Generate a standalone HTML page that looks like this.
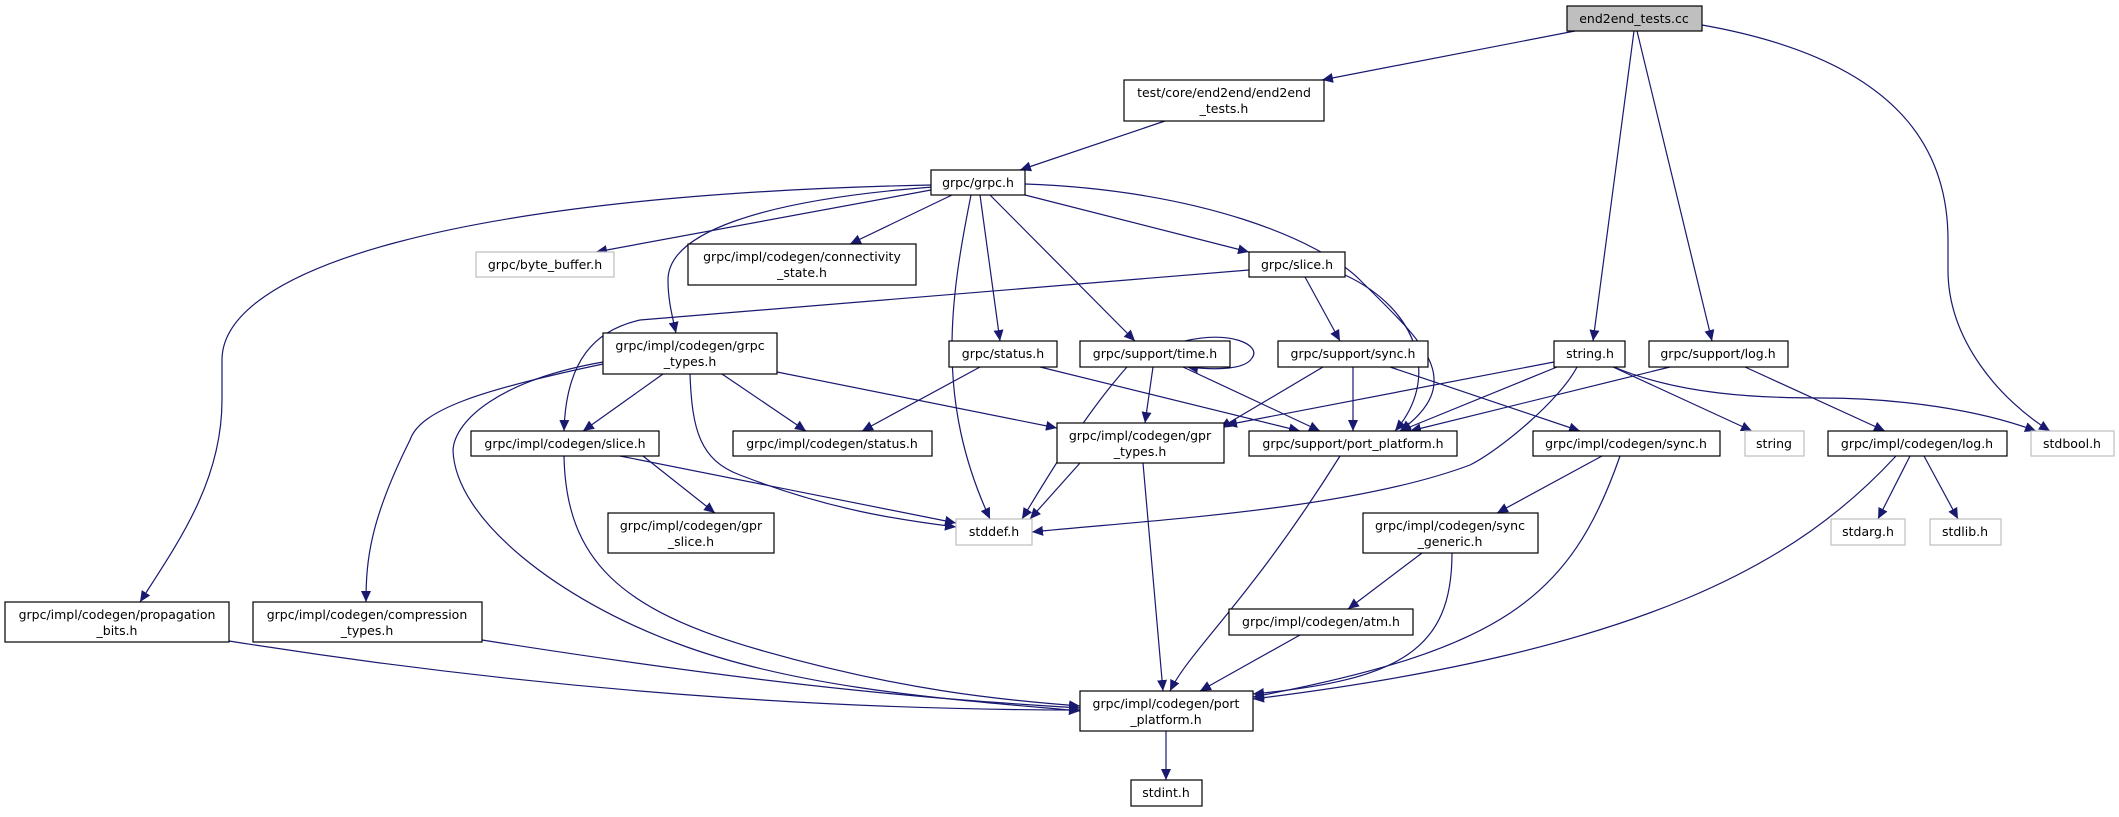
<!DOCTYPE html>
<html><head><meta charset="utf-8"><style>
html,body{margin:0;padding:0;background:#fff;}
svg text{font-family:"DejaVu Sans","Liberation Sans",sans-serif;font-size:12.5px;fill:#000;}
</style></head><body>
<svg width="2119" height="812" viewBox="0 0 2119 812" xmlns="http://www.w3.org/2000/svg">
<defs>
<marker id="a" markerWidth="12" markerHeight="10" refX="11" refY="5" orient="auto" markerUnits="userSpaceOnUse">
<path d="M0,0 L11,5 L0,10 z" fill="#191970"/>
</marker>
</defs>
<g fill="none" stroke="#191970" stroke-width="1.2" marker-end="url(#a)">
<path d="M1575,31 L1322,80"/>
<path d="M1634,31 L1593,341"/>
<path d="M1637,31 L1712,341"/>
<path d="M1702,25 C1900,60 1948,150 1948,240 L1948,270 C1948,340 2000,400 2050,431"/>
<path d="M1165,121 L1020,170"/>
<path d="M931,190 L596,252"/>
<path d="M952,195 L850,244"/>
<path d="M933,187 C760,200 668,233 668,280 C668,300 672,315 676,333"/>
<path d="M1025,195 L1249,252"/>
<path d="M980,195 L1000,341"/>
<path d="M990,195 L1135,341"/>
<path d="M971,195 C950,300 935,400 990,519"/>
<path d="M931,185 C450,195 222,270 222,360 L222,400 C222,480 180,540 140,602"/>
<path d="M1025,184 C1200,190 1320,240 1360,280 C1420,340 1470,380 1400,431"/>
<path d="M1249,270 L640,320 C595,330 566,360 564,431"/>
<path d="M1305,277 L1340,341"/>
<path d="M1345,275 C1420,310 1440,380 1395,431"/>
<path d="M663,374 L583,431"/>
<path d="M722,374 L806,431"/>
<path d="M777,372 L1057,428"/>
<path d="M690,374 C692,430 700,460 740,475 C830,510 900,520 956,527"/>
<path d="M603,362 C500,380 455,420 453,450 C455,520 560,600 676,643 C800,690 960,700 1080,711"/>
<path d="M603,364 C480,390 420,410 410,440 C370,520 366,560 366,602"/>
<path d="M980,367 L862,431"/>
<path d="M1040,367 L1300,431"/>
<path d="M1185,341 C1230,330 1262,345 1252,358 C1245,370 1215,370 1187,367"/>
<path d="M1153,367 L1145,423"/>
<path d="M1127,367 C1080,420 1040,490 1022,519"/>
<path d="M1183,367 L1320,431"/>
<path d="M1323,367 L1220,428"/>
<path d="M1353,367 L1353,431"/>
<path d="M1390,367 L1580,431"/>
<path d="M1554,362 L1226,425"/>
<path d="M1557,367 L1400,431"/>
<path d="M1577,367 C1560,400 1500,450 1470,465 C1350,510 1150,520 1032,532"/>
<path d="M1613,367 L1752,431"/>
<path d="M1614,367 C1680,395 1760,398 1820,398 C1900,398 1980,410 2036,431"/>
<path d="M1670,367 L1410,431"/>
<path d="M1745,367 L1885,431"/>
<path d="M1080,463 L1030,519"/>
<path d="M1143,463 L1163,691"/>
<path d="M643,456 L715,513"/>
<path d="M620,456 L956,523"/>
<path d="M564,456 C566,560 620,610 760,650 C900,690 1000,700 1080,706"/>
<path d="M1340,456 C1250,600 1190,650 1170,691"/>
<path d="M1602,456 L1497,513"/>
<path d="M1620,456 C1570,600 1500,650 1253,697"/>
<path d="M1896,456 C1800,560 1650,650 1253,699"/>
<path d="M1910,456 L1878,519"/>
<path d="M1924,456 L1958,519"/>
<path d="M1422,553 L1348,609"/>
<path d="M1452,553 C1452,650 1400,680 1253,694"/>
<path d="M1300,635 L1200,691"/>
<path d="M229,641 C600,700 900,710 1080,710"/>
<path d="M482,640 C800,690 950,700 1080,708"/>
<path d="M1166,731 L1166,780"/>
</g>
<g stroke-width="1.2">
<!-- black boxes -->
<g fill="#fff" stroke="#000">
<rect x="1124" y="80" width="200" height="41"/>
<rect x="931" y="170" width="94" height="25"/>
<rect x="688" y="244" width="228" height="41"/>
<rect x="603" y="333" width="174" height="41"/>
<rect x="949" y="341" width="108" height="26"/>
<rect x="1249" y="252" width="96" height="25"/>
<rect x="1080" y="341" width="150" height="26"/>
<rect x="1278" y="341" width="150" height="26"/>
<rect x="1554" y="341" width="71" height="26"/>
<rect x="1649" y="341" width="139" height="26"/>
<rect x="471" y="431" width="188" height="25"/>
<rect x="733" y="431" width="199" height="25"/>
<rect x="608" y="513" width="166" height="40"/>
<rect x="5" y="602" width="224" height="40"/>
<rect x="253" y="602" width="229" height="40"/>
<rect x="1057" y="423" width="167" height="40"/>
<rect x="1249" y="431" width="208" height="25"/>
<rect x="1533" y="431" width="187" height="25"/>
<rect x="1828" y="431" width="179" height="25"/>
<rect x="1363" y="513" width="175" height="40"/>
<rect x="1229" y="609" width="184" height="26"/>
<rect x="1080" y="691" width="173" height="40"/>
<rect x="1131" y="780" width="71" height="26"/>
</g>
<g fill="#fff" stroke="#bfbfbf">
<rect x="476" y="252" width="138" height="25"/>
<rect x="956" y="519" width="76" height="26"/>
<rect x="1745" y="431" width="59" height="25"/>
<rect x="2031" y="431" width="83" height="25"/>
<rect x="1831" y="519" width="74" height="26"/>
<rect x="1930" y="519" width="71" height="26"/>
</g>
<rect x="1567" y="6" width="135" height="25" fill="#bfbfbf" stroke="#000"/>
</g>
<g text-anchor="middle">
<text x="1634" y="23">end2end_tests.cc</text>
<text x="1224" y="97">test/core/end2end/end2end</text>
<text x="1224" y="113">_tests.h</text>
<text x="978" y="187">grpc/grpc.h</text>
<text x="545" y="269">grpc/byte_buffer.h</text>
<text x="802" y="261">grpc/impl/codegen/connectivity</text>
<text x="802" y="277">_state.h</text>
<text x="1297" y="269">grpc/slice.h</text>
<text x="690" y="350">grpc/impl/codegen/grpc</text>
<text x="690" y="366">_types.h</text>
<text x="1003" y="358">grpc/status.h</text>
<text x="1155" y="358">grpc/support/time.h</text>
<text x="1353" y="358">grpc/support/sync.h</text>
<text x="1590" y="358">string.h</text>
<text x="1718" y="358">grpc/support/log.h</text>
<text x="565" y="448">grpc/impl/codegen/slice.h</text>
<text x="832" y="448">grpc/impl/codegen/status.h</text>
<text x="1140" y="440">grpc/impl/codegen/gpr</text>
<text x="1140" y="456">_types.h</text>
<text x="1353" y="448">grpc/support/port_platform.h</text>
<text x="1626" y="448">grpc/impl/codegen/sync.h</text>
<text x="1774" y="448">string</text>
<text x="1917" y="448">grpc/impl/codegen/log.h</text>
<text x="2072" y="448">stdbool.h</text>
<text x="994" y="536">stddef.h</text>
<text x="691" y="530">grpc/impl/codegen/gpr</text>
<text x="691" y="546">_slice.h</text>
<text x="1450" y="530">grpc/impl/codegen/sync</text>
<text x="1450" y="546">_generic.h</text>
<text x="1868" y="536">stdarg.h</text>
<text x="1965" y="536">stdlib.h</text>
<text x="117" y="619">grpc/impl/codegen/propagation</text>
<text x="117" y="635">_bits.h</text>
<text x="367" y="619">grpc/impl/codegen/compression</text>
<text x="367" y="635">_types.h</text>
<text x="1321" y="626">grpc/impl/codegen/atm.h</text>
<text x="1166" y="708">grpc/impl/codegen/port</text>
<text x="1166" y="724">_platform.h</text>
<text x="1166" y="797">stdint.h</text>
</g>
</svg>
</body></html>
